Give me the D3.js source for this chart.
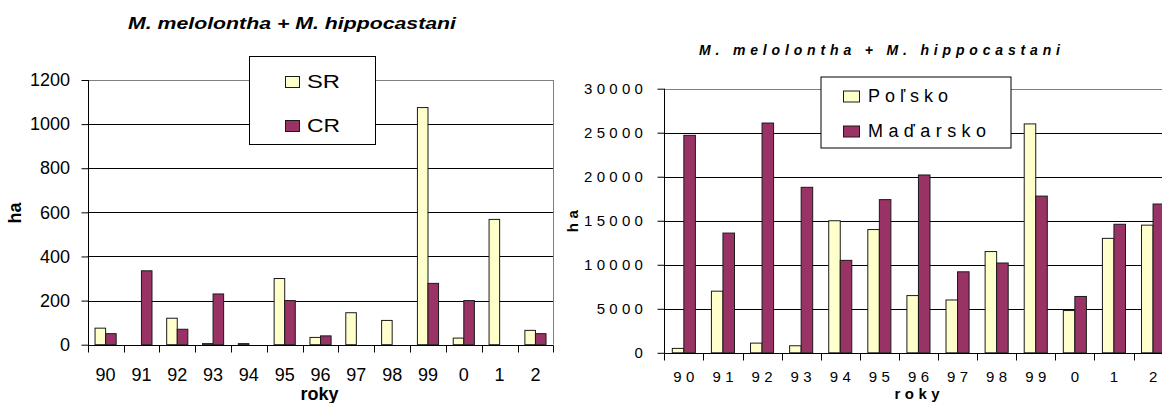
<!DOCTYPE html>
<html>
<head>
<meta charset="utf-8">
<script src="https://cdn.jsdelivr.net/npm/d3@7"></script>
<style>
  body { margin: 0; background: #fff; }
  svg { display: block; font-family: "Liberation Sans", Arial, sans-serif; }
</style>
</head>
<body>
<div id="chart"></div>
<script>
// years on the x axis (both charts)
const years = ["90", "91", "92", "93", "94", "95", "96", "97", "98", "99", "0", "1", "2"];

// left chart: SR / CR, ha
const leftSeries = ["SR", "CR"];
const srValues = [75, 0, 120, 5, 5, 300, 33, 145, 110, 1075, 30, 568, 65];
const crValues = [50, 335, 70, 230, 0, 200, 40, 0, 0, 278, 200, 0, 50];
const leftTicks = [0, 200, 400, 600, 800, 1000, 1200];

// right chart: Poľsko / Maďarsko, ha
const rightSeries = ["Poľsko", "Maďarsko"];
const polskoValues = [500, 7000, 1100, 800, 15000, 14000, 6500, 6000, 11500, 26000, 4800, 13000, 14500];
const madarskoValues = [24700, 13600, 26100, 18800, 10500, 17400, 20200, 9200, 10200, 17800, 6400, 14600, 16900];
const rightTicks = [0, 5000, 10000, 15000, 20000, 25000, 30000];

const title = "M. melolontha + M. hippocastani";
const colors = ["#FFFFCC", "#993366"];

const svg = d3.select("#chart").append("svg")
    .attr("width", 1162).attr("height", 403);
svg.append("rect").attr("width", 1162).attr("height", 403).attr("fill", "#fff");

const drawChart = (cfg) => {
    const g = svg.append("g");
    const x = d3.scaleBand().domain(years).range([cfg.left, cfg.left + cfg.band * years.length]);
    const xs = d3.scaleBand().domain(cfg.series)
        .range([cfg.band * 0.205, cfg.band * 0.795]);
    const y = d3.scaleLinear().domain([0, cfg.ticks[cfg.ticks.length - 1]]).range([cfg.bottom, cfg.top]);
    const right = Math.min(x.range()[1], 1170);

    // gridlines
    g.append("g").selectAll("line")
        .data(cfg.ticks.filter((t) => t > 0))
        .join("line")
        .attr("x1", cfg.left).attr("x2", right)
        .attr("y1", (d) => Math.round(y(d)) + 0.5).attr("y2", (d) => Math.round(y(d)) + 0.5)
        .attr("stroke", (d, i, n) => i === n.length - 1 ? "#808080" : "#000")
        .attr("stroke-width", 1);

    if (cfg.rightBorder) {
        g.append("line")
            .attr("x1", Math.round(right) + 0.5).attr("x2", Math.round(right) + 0.5)
            .attr("y1", y(cfg.ticks[cfg.ticks.length - 1])).attr("y2", cfg.bottom)
            .attr("stroke", "#808080");
    }

    // bars
    const rows = years.map((yr, i) => ({ yr, vals: cfg.values.map((v, s) => ({ s, name: cfg.series[s], v: v[i] })) }));
    g.append("g").selectAll("g")
        .data(rows)
        .join("g")
        .attr("transform", (d) => `translate(${x(d.yr)},0)`)
        .selectAll("rect")
        .data((d) => d.vals.filter((v) => v.v > 0))
        .join("rect")
        .attr("x", (d) => xs(d.name))
        .attr("width", xs.bandwidth())
        .attr("y", (d) => y(d.v))
        .attr("height", (d) => y(0) - y(d.v))
        .attr("fill", (d) => colors[d.s])
        .attr("stroke", "#1a1a1a")
        .attr("stroke-width", 1);

    // axis lines
    const ax = Math.round(cfg.left) + 0.5;
    const ay = Math.round(cfg.bottom) + 0.5;
    g.append("line").attr("x1", ax).attr("x2", ax)
        .attr("y1", y(cfg.ticks[cfg.ticks.length - 1])).attr("y2", ay).attr("stroke", "#000");
    g.append("line").attr("x1", ax).attr("x2", right)
        .attr("y1", ay).attr("y2", ay).attr("stroke", "#000");

    // y ticks + labels
    const yAxis = g.append("g").attr("transform", `translate(${ax},0)`)
        .call(d3.axisLeft(y).tickValues(cfg.ticks).tickSize(7).tickPadding(cfg.yPad).tickFormat(d3.format("d")));
    yAxis.select(".domain").remove();
    yAxis.selectAll("line").attr("stroke", "#000");
    yAxis.selectAll("text")
        .attr("font-size", cfg.tickFont)
        .attr("fill", "#000")
        .attr("font-family", "Liberation Sans, Arial, sans-serif")
        .style("letter-spacing", cfg.yLs + "px")
        .attr("dx", cfg.yLs);

    // x ticks at band edges
    const edges = years.map((yr) => x(yr)).concat([x.range()[1]]);
    g.append("g").selectAll("line")
        .data(edges)
        .join("line")
        .attr("x1", (d) => Math.round(d) + 0.5).attr("x2", (d) => Math.round(d) + 0.5)
        .attr("y1", ay).attr("y2", ay + 7)
        .attr("stroke", "#000");

    // x labels
    g.append("g").selectAll("text")
        .data(years)
        .join("text")
        .attr("x", (d) => x(d) + x.bandwidth() / 2 + cfg.xLs / 2)
        .attr("y", cfg.xLabelY)
        .attr("text-anchor", "middle")
        .attr("font-size", cfg.tickFont)
        .style("letter-spacing", cfg.xLs + "px")
        .text((d) => d);

    // axis titles
    g.append("text")
        .attr("x", cfg.rokyX + cfg.rokyLs / 2).attr("y", cfg.rokyY)
        .attr("text-anchor", "middle")
        .attr("font-size", cfg.labelFont).attr("font-weight", "bold")
        .style("letter-spacing", cfg.rokyLs + "px")
        .text("roky");
    g.append("text")
        .attr("transform", `translate(${cfg.haX},${cfg.haY}) rotate(-90)`)
        .attr("text-anchor", "middle").attr("dy", "0.35em")
        .attr("font-size", cfg.labelFont).attr("font-weight", "bold")
        .style("letter-spacing", cfg.rokyLs + "px")
        .text("ha");

    // chart title
    g.append("text")
        .attr("x", cfg.titleX).attr("y", cfg.titleY)
        .attr("font-size", cfg.titleFont)
        .attr("font-weight", "bold").attr("font-style", "italic")
        .attr("textLength", cfg.titleW).attr("lengthAdjust", cfg.titleAdjust)
        .text(title);

    // legend
    const lg = cfg.legend;
    g.append("rect")
        .attr("x", lg.x + 0.5).attr("y", lg.y + 0.5)
        .attr("width", lg.w).attr("height", lg.h)
        .attr("fill", "#fff").attr("stroke", "#000");
    cfg.series.forEach((name, i) => {
        g.append("rect")
            .attr("x", lg.mx + 0.5).attr("y", lg.rows[i] - lg.mh / 2 + 0.5)
            .attr("width", lg.mw).attr("height", lg.mh)
            .attr("fill", colors[i]).attr("stroke", "#1a1a1a");
        g.append("text")
            .attr("x", lg.tx).attr("y", lg.rows[i]).attr("dy", "0.36em")
            .attr("font-size", lg.font)
            .attr("textLength", lg.widths[i]).attr("lengthAdjust", lg.adjust)
            .text(name);
    });
};

drawChart({
    series: leftSeries, values: [srValues, crValues], ticks: leftTicks,
    left: 87.7, band: 35.82, top: 80, bottom: 344.7, rightBorder: true,
    tickFont: 18, yPad: 11.4, yLs: 0, xLs: 0, xLabelY: 380.5,
    labelFont: 18, rokyX: 319.5, rokyY: 400, rokyLs: 0, haX: 15, haY: 213,
    titleX: 128, titleY: 29, titleFont: 17, titleW: 328, titleAdjust: "spacingAndGlyphs",
    legend: { x: 249, y: 56, w: 126, h: 88, mx: 285, mw: 14, mh: 11, tx: 307, font: 18,
              rows: [81.5, 125.5], widths: [33, 33], adjust: "spacingAndGlyphs" }
});

drawChart({
    series: rightSeries, values: [polskoValues, madarskoValues], ticks: rightTicks,
    left: 664.3, band: 39.1, top: 88.7, bottom: 352.8, rightBorder: false,
    tickFont: 15, yPad: 14.6, yLs: 4.3, xLs: 4.4, xLabelY: 381.5,
    labelFont: 15, rokyX: 917, rokyY: 399, rokyLs: 4.5, haX: 573, haY: 219,
    titleX: 699, titleY: 55, titleFont: 14, titleW: 361, titleAdjust: "spacing",
    legend: { x: 820.5, y: 76.5, w: 190, h: 71, mx: 843, mw: 16, mh: 11, tx: 868, font: 18,
              rows: [96, 131], widths: [80, 118], adjust: "spacing" }
});
</script>
</body>
</html>
